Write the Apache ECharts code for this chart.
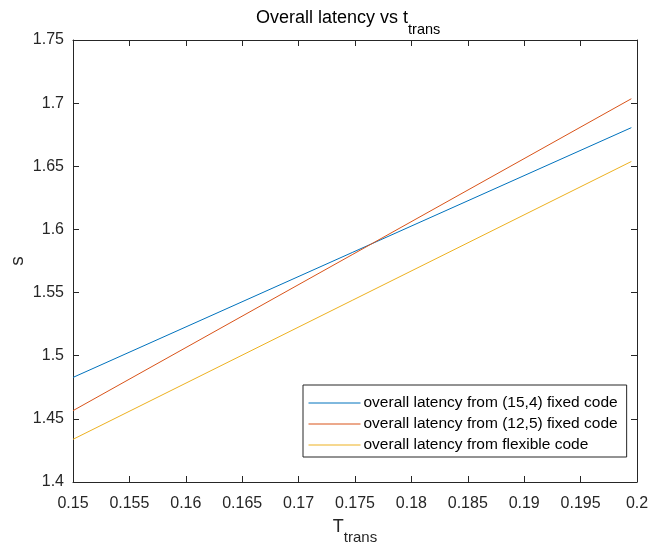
<!DOCTYPE html>
<html>
<head>
<meta charset="utf-8">
<script src="https://cdn.jsdelivr.net/npm/echarts@6/dist/echarts.min.js"></script>
<style>html,body{margin:0;padding:0;background:#fff}#c{width:649px;height:546px}</style>
</head>
<body>
<div id="c"></div>
<script>
// Data
var xValues = [0.15, 0.1995];
var latency154 = [1.4828, 1.6806];
var latency125 = [1.4565, 1.7035];
var latencyFlex = [1.4338, 1.6538];
var seriesNames = [
  'overall latency from (15,4) fixed code',
  'overall latency from (12,5) fixed code',
  'overall latency from flexible code'
];
var seriesColors = ['#0072BD', '#D95319', '#EDB120'];
var xTickMin = 0.15, xTickMax = 0.2, xTickStep = 0.005;
var yTickMin = 1.4, yTickMax = 1.75, yTickStep = 0.05;

var FONT = 'Liberation Sans, Helvetica, Arial, sans-serif';
var AX = '#262626';

function pairs(ys) { return xValues.map(function (x, i) { return [x, ys[i]]; }); }

function fmtX(v) { return String(+v.toFixed(4)); }
function fmtY(v) { return String(+v.toFixed(4)); }

var chart = echarts.init(document.getElementById('c'));
var baseAxis = {
  axisLine: { show: true, onZero: false, lineStyle: { color: AX, width: 1 } },
  axisTick: { show: true, inside: true, length: 6, lineStyle: { color: AX, width: 1 } },
  splitLine: { show: false }
};
chart.setOption({
  animation: false,
  backgroundColor: '#fff',
  title: {
    text: 'Overall latency vs t{sub|trans}',
    left: 256, top: -1, padding: 0,
    textStyle: {
      fontFamily: FONT, fontSize: 18, fontWeight: 'normal', color: '#000',
      lineHeight: 38,
      rich: { sub: { fontFamily: FONT, fontSize: 14.5, lineHeight: 14, verticalAlign: 'bottom', color: '#000' } }
    }
  },
  grid: { left: 73, right: 12, top: 40, bottom: 64, containLabel: false, outerBoundsMode: 'none' },
  xAxis: [
    Object.assign({}, baseAxis, {
      type: 'value', position: 'bottom', min: xTickMin, max: xTickMax, interval: xTickStep,
      axisLabel: { show: true, color: AX, fontFamily: FONT, fontSize: 16, margin: 14, formatter: fmtX },
      name: 'T{sub|trans}', nameLocation: 'middle', nameGap: 27, nameMoveOverlap: false,
      nameTextStyle: {
        fontFamily: FONT, fontSize: 18, color: AX, lineHeight: 36, verticalAlign: 'top',
        rich: { sub: { fontFamily: FONT, fontSize: 15, lineHeight: 15, verticalAlign: 'bottom', color: AX } }
      }
    }),
    Object.assign({}, baseAxis, {
      type: 'value', position: 'top', min: xTickMin, max: xTickMax, interval: xTickStep,
      axisLabel: { show: false }
    })
  ],
  yAxis: [
    Object.assign({}, baseAxis, {
      type: 'value', position: 'left', min: yTickMin, max: yTickMax, interval: yTickStep,
      axisLabel: { show: true, color: AX, fontFamily: FONT, fontSize: 16, margin: 9, formatter: fmtY },
      name: 's', nameLocation: 'middle', nameGap: 46, nameMoveOverlap: false,
      nameTextStyle: { fontFamily: FONT, fontSize: 19, color: AX }
    }),
    Object.assign({}, baseAxis, {
      type: 'value', position: 'right', min: yTickMin, max: yTickMax, interval: yTickStep,
      axisLabel: { show: false }
    })
  ],
  legend: {
    orient: 'vertical', left: 303, top: 385,
    padding: [10, 9, 4, 5],
    itemWidth: 52, itemHeight: 18, itemGap: 5,
    backgroundColor: '#fff', borderColor: AX, borderWidth: 1,
    itemStyle: { color: 'rgba(0,0,0,0)', borderColor: 'rgba(0,0,0,0)', borderWidth: 0 },
    lineStyle: { width: 1 },
    textStyle: { fontFamily: FONT, fontSize: 15.5, color: '#000', padding: [0, 0, 0, -2] },
    data: seriesNames
  },
  series: [latency154, latency125, latencyFlex].map(function (ys, i) {
    return {
      name: seriesNames[i], type: 'line', xAxisIndex: 0, yAxisIndex: 0,
      data: pairs(ys), symbol: 'none', showSymbol: false,
      lineStyle: { color: seriesColors[i], width: 1 }, itemStyle: { color: seriesColors[i] }
    };
  })
});
</script>
</body>
</html>
